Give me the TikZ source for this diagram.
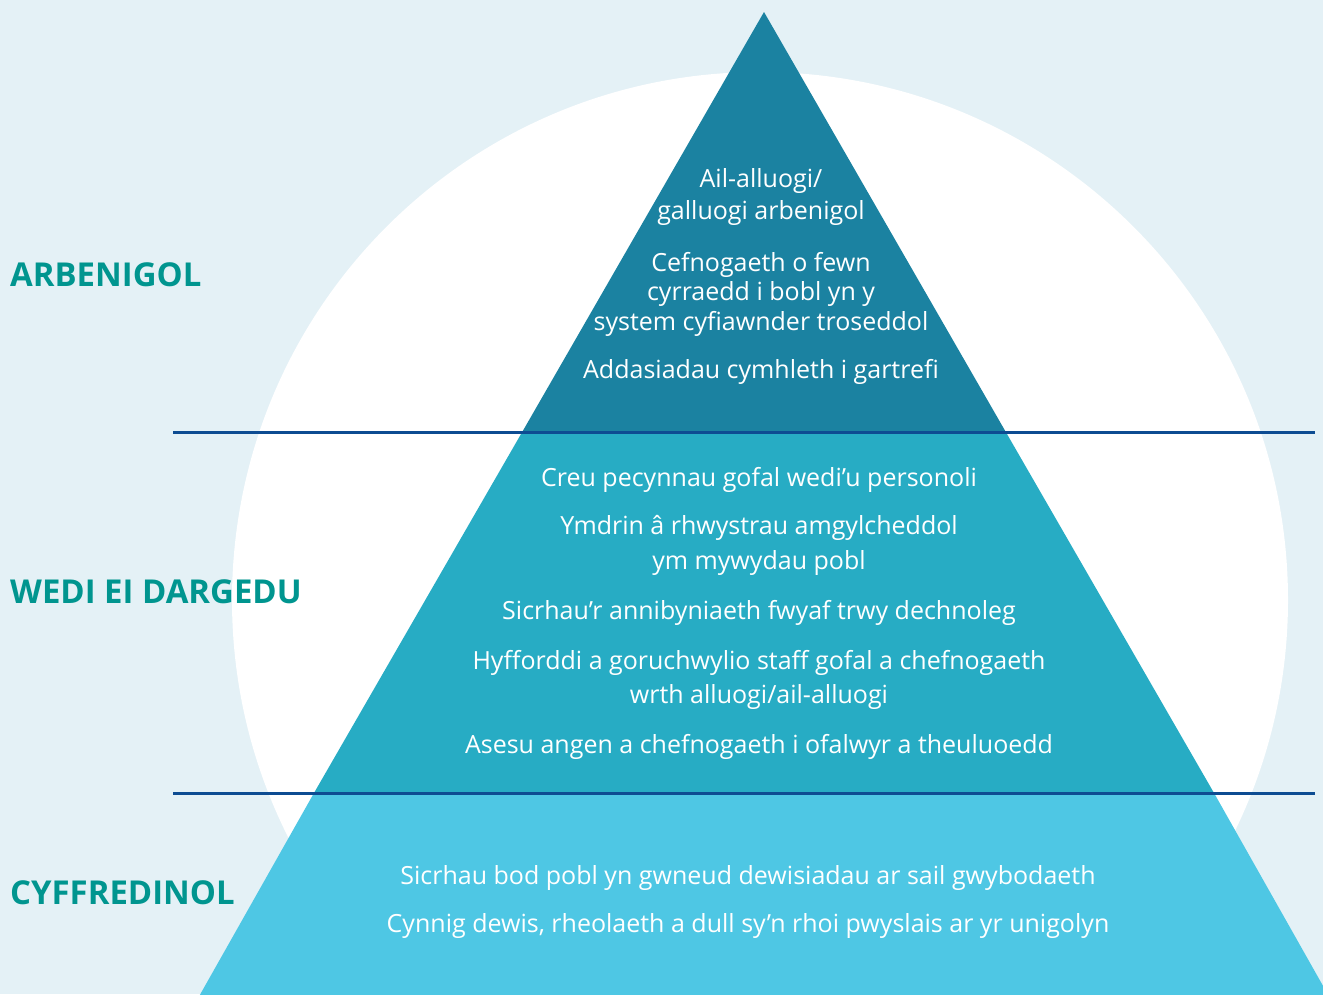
\documentclass[tikz,border=0pt]{standalone}
\usepackage{fontspec}
\setmainfont{Open Sans}
\definecolor{bgc}{HTML}{E4F1F6}
\definecolor{topc}{HTML}{1B82A1}
\definecolor{midc}{HTML}{27ACC4}
\definecolor{botc}{HTML}{4EC7E4}
\definecolor{linec}{HTML}{0D4C92}
\definecolor{labc}{HTML}{00958F}
\tikzset{
  item/.style={text=white, align=center, inner sep=0pt, font=\fontsize{25}{34}\selectfont},
  level/.style={text=labc, anchor=west, inner sep=0pt, font=\fontsize{32.9}{40}\selectfont\bfseries},
  divider/.style={draw=linec, line width=2.5pt}
}
\begin{document}
\begin{tikzpicture}[x=1pt,y=-1pt]
\useasboundingbox (0,0) rectangle (1323,994);
\fill[bgc] (0,0) rectangle (1323,994);
\begin{scope}
\clip (0,0) rectangle (1323,994);
\fill[white] (760,600) circle (528);
% triangle parts
\coordinate (apex) at (764,12);
\fill[topc] (apex) -- (521.9,432.5) -- (1006.1,432.5) -- cycle;
\fill[midc] (521.9,432.5) -- (313.7,793.5) -- (1214.3,793.5) -- (1006.1,432.5) -- cycle;
\fill[botc] (313.7,793.5) -- (197,1000) -- (1331,1000) -- (1214.3,793.5) -- cycle;
\end{scope}
\coordinate (l1a) at (173,432.5);
\coordinate (l1b) at (1315,432.5);
\coordinate (l2a) at (173,793.5);
\coordinate (l2b) at (1315,793.5);
\draw[divider] (l1a) -- (l1b);
\draw[divider] (l2a) -- (l2b);
% labels
\node[level] (arb) at (10,275) {ARBENIGOL};
\node[level] (wed) at (10,592) {WEDI EI DARGEDU};
\node[level] (cyf) at (10,893) {CYFFREDINOL};
% top texts
\node[item, font=\fontsize{25}{32}\selectfont] (t1) at (761,196.5) {Ail-alluogi/\\galluogi arbenigol};
\node[item, font=\fontsize{25}{29.5}\selectfont] (t2) at (761,294) {Cefnogaeth o fewn\\cyrraedd i bobl yn y\\system cyfiawnder troseddol};
\node[item] (t3) at (761,372) {Addasiadau cymhleth i gartrefi};
% middle texts
\node[item] (m1) at (759,479.5) {Creu pecynnau gofal wedi’u personoli};
\node[item, font=\fontsize{25}{35}\selectfont] (m2) at (759,545) {Ymdrin â rhwystrau amgylcheddol\\ym mywydau pobl};
\node[item] (m3) at (759,612.5) {Sicrhau’r annibyniaeth fwyaf trwy dechnoleg};
\node[item, font=\fontsize{25}{34}\selectfont] (m4) at (759,679.5) {Hyfforddi a goruchwylio staff gofal a chefnogaeth\\wrth alluogi/ail-alluogi};
\node[item] (m5) at (759,746.5) {Asesu angen a chefnogaeth i ofalwyr a theuluoedd};
% bottom texts
\node[item] (b1) at (748,878) {Sicrhau bod pobl yn gwneud dewisiadau ar sail gwybodaeth};
\node[item] (b2) at (748,926) {Cynnig dewis, rheolaeth a dull sy’n rhoi pwyslais ar yr unigolyn};
\end{tikzpicture}
\end{document}
